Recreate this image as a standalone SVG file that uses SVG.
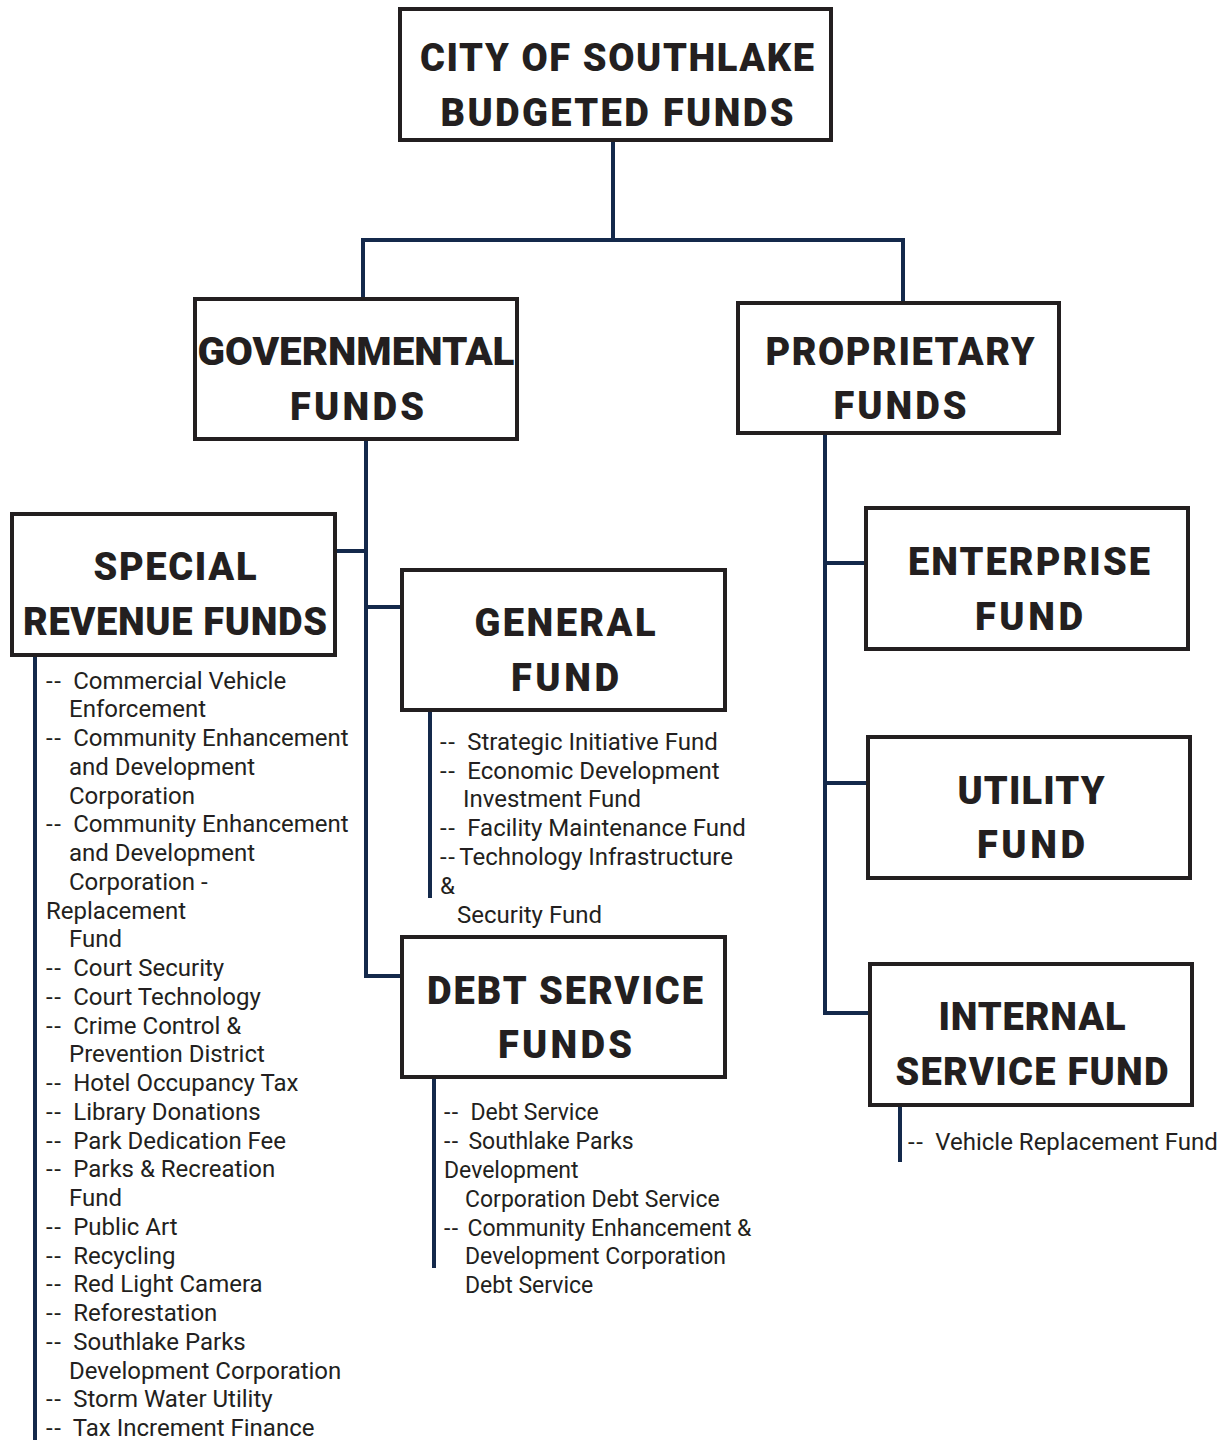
<svg xmlns="http://www.w3.org/2000/svg" width="1224" height="1440" viewBox="0 0 1224 1440">
<style>
.box{fill:#fff;stroke:#231f20;stroke-width:4}
.hd{font-family:Roboto,"Liberation Sans",sans-serif;font-weight:900;font-size:38px;fill:#231f20;text-anchor:middle}
.li{font-family:Roboto,"Liberation Sans",sans-serif;font-size:24px;fill:#231f20}
.sm{font-size:23px}
.d{letter-spacing:1.5px}
.cn{fill:none;stroke:#14294b;stroke-width:4}
</style>
<rect width="1224" height="1440" fill="#fff"/>
<g id="connectors">
<path class="cn" d="M613 142V240M361 240H905M363 238V297M903 238V301"/>
<path class="cn" d="M366 441V976H400M337 551H366M366 607H400"/>
<path class="cn" d="M35 657V1440M430 712V898M434 1079V1268"/>
<path class="cn" d="M825 435V1013H869M825 563H869M825 783H867M900 1107V1162"/>
</g>
<g id="city">
<rect class="box" x="400" y="9" width="431" height="131"/>
<text class="hd" x="617" y="71" textLength="394" lengthAdjust="spacing">CITY OF SOUTHLAKE</text>
<text class="hd" x="617" y="126" textLength="353" lengthAdjust="spacing">BUDGETED FUNDS</text>
</g>
<g id="governmental">
<rect class="box" x="195" y="299" width="322" height="140"/>
<text class="hd" x="356" y="365" textLength="317" lengthAdjust="spacingAndGlyphs">GOVERNMENTAL</text>
<text class="hd" x="357" y="420" textLength="134" lengthAdjust="spacing">FUNDS</text>
</g>
<g id="proprietary">
<rect class="box" x="738" y="303" width="321" height="130"/>
<text class="hd" x="900" y="365" textLength="269" lengthAdjust="spacing">PROPRIETARY</text>
<text class="hd" x="900" y="419" textLength="133" lengthAdjust="spacing">FUNDS</text>
</g>
<g id="special">
<rect class="box" x="12" y="514" width="323" height="141"/>
<text class="hd" x="175" y="580" textLength="163" lengthAdjust="spacing">SPECIAL</text>
<text class="hd" x="175" y="635" textLength="304" lengthAdjust="spacing">REVENUE FUNDS</text>
<g class="li">
<text x="46" y="688.5"><tspan class="d">--</tspan><tspan dx="5"> Commercial Vehicle</tspan></text>
<text x="69" y="717.3">Enforcement</text>
<text x="46" y="746"><tspan class="d">--</tspan><tspan dx="5"> Community Enhancement</tspan></text>
<text x="69" y="774.8">and Development</text>
<text x="69" y="803.5">Corporation</text>
<text x="46" y="832.3"><tspan class="d">--</tspan><tspan dx="5"> Community Enhancement</tspan></text>
<text x="69" y="861">and Development</text>
<text x="69" y="889.8">Corporation -</text>
<text x="46" y="918.5">Replacement</text>
<text x="69" y="947.3">Fund</text>
<text x="46" y="976"><tspan class="d">--</tspan><tspan dx="5"> Court Security</tspan></text>
<text x="46" y="1004.8"><tspan class="d">--</tspan><tspan dx="5"> Court Technology</tspan></text>
<text x="46" y="1033.5"><tspan class="d">--</tspan><tspan dx="5"> Crime Control &amp;</tspan></text>
<text x="69" y="1062.3">Prevention District</text>
<text x="46" y="1091"><tspan class="d">--</tspan><tspan dx="5"> Hotel Occupancy Tax</tspan></text>
<text x="46" y="1119.8"><tspan class="d">--</tspan><tspan dx="5"> Library Donations</tspan></text>
<text x="46" y="1148.5"><tspan class="d">--</tspan><tspan dx="5"> Park Dedication Fee</tspan></text>
<text x="46" y="1177.3"><tspan class="d">--</tspan><tspan dx="5"> Parks &amp; Recreation</tspan></text>
<text x="69" y="1206">Fund</text>
<text x="46" y="1234.8"><tspan class="d">--</tspan><tspan dx="5"> Public Art</tspan></text>
<text x="46" y="1263.5"><tspan class="d">--</tspan><tspan dx="5"> Recycling</tspan></text>
<text x="46" y="1292.3"><tspan class="d">--</tspan><tspan dx="5"> Red Light Camera</tspan></text>
<text x="46" y="1321"><tspan class="d">--</tspan><tspan dx="5"> Reforestation</tspan></text>
<text x="46" y="1349.8"><tspan class="d">--</tspan><tspan dx="5"> Southlake Parks</tspan></text>
<text x="69" y="1378.5">Development Corporation</text>
<text x="46" y="1407.3"><tspan class="d">--</tspan><tspan dx="5"> Storm Water Utility</tspan></text>
<text x="46" y="1436"><tspan class="d">--</tspan><tspan dx="5"> Tax Increment Finance</tspan></text>
</g>
</g>
<g id="general">
<rect class="box" x="402" y="570" width="323" height="140"/>
<text class="hd" x="565" y="636" textLength="181" lengthAdjust="spacing">GENERAL</text>
<text class="hd" x="565" y="691" textLength="108" lengthAdjust="spacing">FUND</text>
<g class="li">
<text x="440" y="750"><tspan class="d">--</tspan><tspan dx="5"> Strategic Initiative Fund</tspan></text>
<text x="440" y="779"><tspan class="d">--</tspan><tspan dx="5"> Economic Development</tspan></text>
<text x="463" y="807">Investment Fund</text>
<text x="440" y="836"><tspan class="d">--</tspan><tspan dx="5"> Facility Maintenance Fund</tspan></text>
<text x="440" y="865"><tspan class="d">--</tspan><tspan dx="3">Technology Infrastructure</tspan></text>
<text x="440" y="894">&amp;</text>
<text x="457" y="923">Security Fund</text>
</g>
</g>
<g id="debt">
<rect class="box" x="402" y="937" width="323" height="140"/>
<text class="hd" x="565" y="1004" textLength="276" lengthAdjust="spacing">DEBT SERVICE</text>
<text class="hd" x="565" y="1058" textLength="134" lengthAdjust="spacing">FUNDS</text>
<g class="li sm">
<text x="444" y="1120"><tspan class="d">--</tspan><tspan dx="5"> Debt Service</tspan></text>
<text x="444" y="1149"><tspan class="d">--</tspan><tspan dx="3"> Southlake Parks</tspan></text>
<text x="444" y="1178">Development</text>
<text x="465" y="1207">Corporation Debt Service</text>
<text x="444" y="1236"><tspan class="d">--</tspan><tspan dx="2"> Community Enhancement &amp;</tspan></text>
<text x="465" y="1264">Development Corporation</text>
<text x="465" y="1293">Debt Service</text>
</g>
</g>
<g id="enterprise">
<rect class="box" x="866" y="508" width="322" height="141"/>
<text class="hd" x="1029" y="575" textLength="242" lengthAdjust="spacing">ENTERPRISE</text>
<text class="hd" x="1029" y="630" textLength="108" lengthAdjust="spacing">FUND</text>
</g>
<g id="utility">
<rect class="box" x="868" y="737" width="322" height="141"/>
<text class="hd" x="1031" y="804" textLength="147" lengthAdjust="spacing">UTILITY</text>
<text class="hd" x="1031" y="858" textLength="108" lengthAdjust="spacing">FUND</text>
</g>
<g id="internal">
<rect class="box" x="870" y="964" width="322" height="141"/>
<text class="hd" x="1032" y="1030" textLength="187" lengthAdjust="spacing">INTERNAL</text>
<text class="hd" x="1032" y="1085" textLength="273" lengthAdjust="spacing">SERVICE FUND</text>
<text class="li" x="908" y="1150"><tspan class="d">--</tspan><tspan dx="5"> Vehicle Replacement Fund</tspan></text>
</g>
</svg>
